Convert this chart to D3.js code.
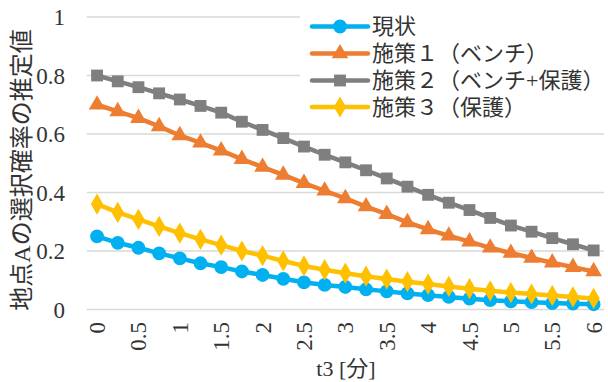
<!DOCTYPE html>
<html>
<head>
<meta charset="utf-8">
<script src="https://cdn.jsdelivr.net/npm/d3@7"></script>
<style>
  html, body { margin: 0; padding: 0; background: #fff; }
  svg { display: block; }
  text { font-family: "Liberation Serif", "Noto Sans CJK JP", serif; fill: #333; }
</style>
</head>
<body>
<svg id="chart" width="608" height="382"></svg>
<script>
// t3 [分] categories, 0 to 6 in 0.25 steps
const categories = [0, 0.25, 0.5, 0.75, 1, 1.25, 1.5, 1.75, 2, 2.25, 2.5, 2.75, 3,
                    3.25, 3.5, 3.75, 4, 4.25, 4.5, 4.75, 5, 5.25, 5.5, 5.75, 6];
const xTickLabels = ["0", "0.5", "1", "1.5", "2", "2.5", "3", "3.5", "4", "4.5", "5", "5.5", "6"];
const yTicks = [0, 0.2, 0.4, 0.6, 0.8, 1];
const yTickLabels = ["0", "0.2", "0.4", "0.6", "0.8", "1"];

const seriesNames = ["現状", "施策１（ベンチ）", "施策２（ベンチ+保護）", "施策３（保護）"];
const current = [0.25, 0.228, 0.211, 0.192, 0.175, 0.158, 0.145, 0.130, 0.118, 0.105, 0.093, 0.084, 0.077,
                 0.069, 0.062, 0.055, 0.049, 0.043, 0.037, 0.032, 0.028, 0.025, 0.022, 0.020, 0.018];
const plan1 = [0.70, 0.677, 0.654, 0.626, 0.595, 0.570, 0.543, 0.514, 0.487, 0.460, 0.432, 0.406, 0.380,
               0.352, 0.326, 0.298, 0.274, 0.252, 0.232, 0.211, 0.193, 0.176, 0.160, 0.145, 0.130];
const plan2 = [0.80, 0.780, 0.760, 0.739, 0.718, 0.696, 0.673, 0.642, 0.614, 0.586, 0.557, 0.529, 0.503,
               0.476, 0.448, 0.420, 0.392, 0.365, 0.340, 0.313, 0.287, 0.266, 0.244, 0.223, 0.202];
const plan3 = [0.36, 0.332, 0.308, 0.284, 0.261, 0.240, 0.220, 0.200, 0.184, 0.166, 0.149, 0.136, 0.124,
               0.114, 0.104, 0.095, 0.087, 0.079, 0.071, 0.064, 0.058, 0.053, 0.048, 0.043, 0.038];

const colors = ["#00B0F0", "#ED7D31", "#7F7F7F", "#FFC000"];
const markerTypes = [d3.symbolCircle, d3.symbolTriangle, d3.symbolSquare, d3.symbolDiamond];
const markerSizes = [150, 120, 140, 130];

const seriesData = [current, plan1, plan2, plan3].map((vals, i) => ({
  name: seriesNames[i], color: colors[i], symbol: markerTypes[i], size: markerSizes[i],
  points: vals.map((v, j) => ({ x: categories[j], y: v }))
}));

const svg = d3.select("#chart");
const plot = { left: 86.7, right: 604, top: 17, bottom: 309.5 };

const x = d3.scalePoint().domain(categories).range([plot.left, plot.right]).padding(0.5);
const y = d3.scaleLinear().domain([0, 1]).range([plot.bottom, plot.top]);

// horizontal gridlines
svg.append("g").selectAll("line").data(yTicks).join("line")
  .attr("x1", plot.left).attr("x2", plot.right)
  .attr("y1", d => y(d)).attr("y2", d => y(d))
  .attr("stroke", "#d9d9d9").attr("stroke-width", 1.5);

// y tick labels
svg.append("g").selectAll("text").data(yTicks).join("text")
  .attr("x", 65).attr("y", d => y(d)).attr("dy", "0.35em")
  .attr("text-anchor", "end").attr("font-size", 23)
  .text((d, i) => yTickLabels[i]);

// x tick labels (every other category), rotated
const labelled = categories.filter(c => xTickLabels.includes(String(c)));
svg.append("g").selectAll("text").data(labelled).join("text")
  .attr("transform", d => `translate(${x(d)},322) rotate(-90)`)
  .attr("dy", "0.35em").attr("text-anchor", "end").attr("font-size", 23)
  .text(d => String(d));

// axis titles
svg.append("text").attr("x", 346).attr("y", 376)
  .attr("text-anchor", "middle").attr("font-size", 22).text("t3 [分]");
svg.append("text").attr("transform", "translate(22,170) rotate(-90)")
  .attr("dy", "0.35em").attr("text-anchor", "middle").attr("font-size", 24)
  .text("地点Aの選択確率の推定値");

// series lines and markers
const line = d3.line().x(d => x(d.x)).y(d => y(d.y));
const gSeries = svg.append("g");
seriesData.forEach(s => {
  const g = gSeries.append("g");
  g.append("path").datum(s.points).attr("d", line)
    .attr("fill", "none").attr("stroke", s.color).attr("stroke-width", 4.5)
    .attr("stroke-linejoin", "round").attr("stroke-linecap", "round");
  g.selectAll("path.m").data(s.points).join("path").attr("class", "m")
    .attr("transform", d => `translate(${x(d.x)},${y(d.y)})`)
    .attr("d", d3.symbol().type(s.symbol).size(s.size))
    .attr("fill", s.color);
});

// legend
const legend = svg.append("g");
legend.append("rect").attr("x", 300).attr("y", 0).attr("width", 308).attr("height", 122).attr("fill", "#fff");
const rowY = [26.5, 53.5, 80.5, 107];
seriesData.forEach((s, i) => {
  const row = legend.append("g").attr("transform", `translate(0,${rowY[i]})`);
  row.append("line").attr("x1", 312).attr("x2", 368).attr("y1", 0).attr("y2", 0)
    .attr("stroke", s.color).attr("stroke-width", 4.5).attr("stroke-linecap", "round");
  row.append("path").attr("transform", "translate(340,0)")
    .attr("d", d3.symbol().type(s.symbol).size(s.size)).attr("fill", s.color);
  row.append("text").attr("x", 372).attr("dy", "0.35em").attr("font-size", 22).text(s.name);
});
</script>
</body>
</html>
